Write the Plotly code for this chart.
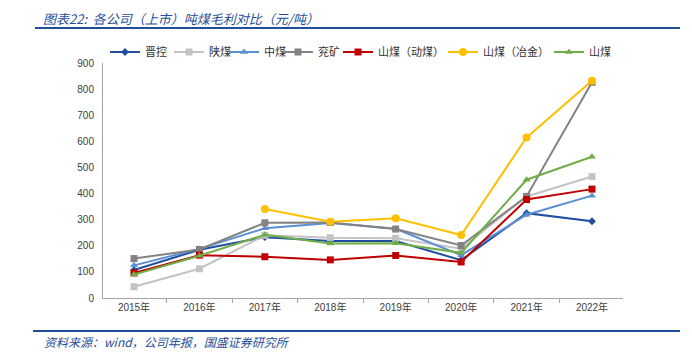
import plotly.graph_objects as go

categories = ["2015年", "2016年", "2017年", "2018年", "2019年", "2020年", "2021年", "2022年"]
jinkong = [107, 185, 233, 218, 218, 145, 325, 294]
shaanmei = [43, 112, 240, 231, 229, 189, 389, 465]
zhongmei = [125, 188, 267, 287, 265, 164, 319, 392]
yankuang = [151, 186, 288, 289, 264, 201, 389, 826]
shanmei_dong = [96, 164, 158, 146, 163, 138, 377, 417]
shanmei_yejin = [None, None, 341, 292, 305, 241, 615, 832]
shanmei = [90, 162, 242, 209, 210, 173, 453, 541]

series = [
    ("晋控", jinkong, "#1F4E9F", "diamond", 6),
    ("陕煤", shaanmei, "#C3C3C3", "square", 7),
    ("中煤", zhongmei, "#5B8FD4", "triangle-up", 7),
    ("兖矿", yankuang, "#828282", "square", 7),
    ("山煤（动煤）", shanmei_dong, "#C00000", "square", 7),
    ("山煤（冶金）", shanmei_yejin, "#FFC000", "circle", 8),
    ("山煤", shanmei, "#70AD47", "triangle-up", 7),
]
# text start x of each legend entry (window pixels)
legend_text_x = [143, 207, 262, 316, 376, 481, 587]

W, H = 692, 356
OFF = 8  # default page body margin shifts the figure by this much
# plot area in window pixels
L, R, T, B = 103, 623, 63, 298

def fx(x):
    # window pixel x -> paper fraction (paper = whole figure)
    return (x - OFF) / W

def fy(y):
    # window pixel y -> paper fraction
    return 1 - (y - OFF) / H

fig = go.Figure()
legend_layouts = {}
for i, (name, vals, color, sym, size) in enumerate(series):
    lname = "legend" if i == 0 else f"legend{i + 1}"
    fig.add_trace(go.Scatter(
        x=categories, y=vals, name=name, mode="lines+markers",
        line=dict(color=color, width=2),
        marker=dict(symbol=sym, size=size, color=color),
        connectgaps=False, legend=lname,
    ))
    legend_layouts[lname] = dict(
        orientation="h", xref="paper", yref="paper",
        x=fx(legend_text_x[i] - 38), y=fy(52),
        xanchor="left", yanchor="middle",
        font=dict(family="Noto Sans CJK SC", size=11, color="#333333"),
        itemwidth=30, bgcolor="rgba(0,0,0,0)", borderwidth=0,
    )

blue = "#1F4E9A"
fig.update_layout(
    width=W, height=H,
    margin=dict(l=0, r=0, t=0, b=0, autoexpand=False),
    paper_bgcolor="white", plot_bgcolor="white",
    font=dict(family="Liberation Sans, Noto Sans CJK SC", size=10, color="#404040"),
    showlegend=True,
    xaxis=dict(
        domain=[fx(L), fx(R)],
        type="category", showgrid=False, showline=True, linecolor="#A6A6A6", linewidth=1,
        ticks="outside", tickson="boundaries", ticklen=4, tickcolor="#A6A6A6",
        tickfont=dict(size=10, color="#404040"),
    ),
    yaxis=dict(
        domain=[fy(B), fy(T)],
        range=[0, 900], dtick=100, showgrid=False, showline=True, linecolor="#A6A6A6",
        linewidth=1, ticks="", zeroline=False, ticklabelstandoff=6,
        tickfont=dict(size=10, color="#404040"),
    ),
    shapes=[
        dict(type="line", xref="paper", yref="paper", x0=fx(35), x1=fx(680),
             y0=fy(28), y1=fy(28), line=dict(color=blue, width=2), layer="above"),
        dict(type="line", xref="paper", yref="paper", x0=fx(33), x1=fx(680),
             y0=fy(331), y1=fy(331), line=dict(color=blue, width=2), layer="above"),
    ],
    annotations=[
        dict(xref="paper", yref="paper", x=fx(42), y=fy(8), xanchor="left", yanchor="top",
             text="<i>图表22:  各公司（上市）吨煤毛利对比（元/吨）</i>", showarrow=False,
             borderpad=0, font=dict(family="Noto Sans CJK SC", size=13, color=blue)),
        dict(xref="paper", yref="paper", x=fx(42), y=fy(341), xanchor="left", yanchor="middle",
             text="<i>资料来源：wind，公司年报，国盛证券研究所</i>", showarrow=False,
             font=dict(family="Noto Sans CJK SC", size=12, color=blue)),
    ],
)
fig.update_layout(**legend_layouts)

fig.write_html("out.html", config={"displayModeBar": False})
